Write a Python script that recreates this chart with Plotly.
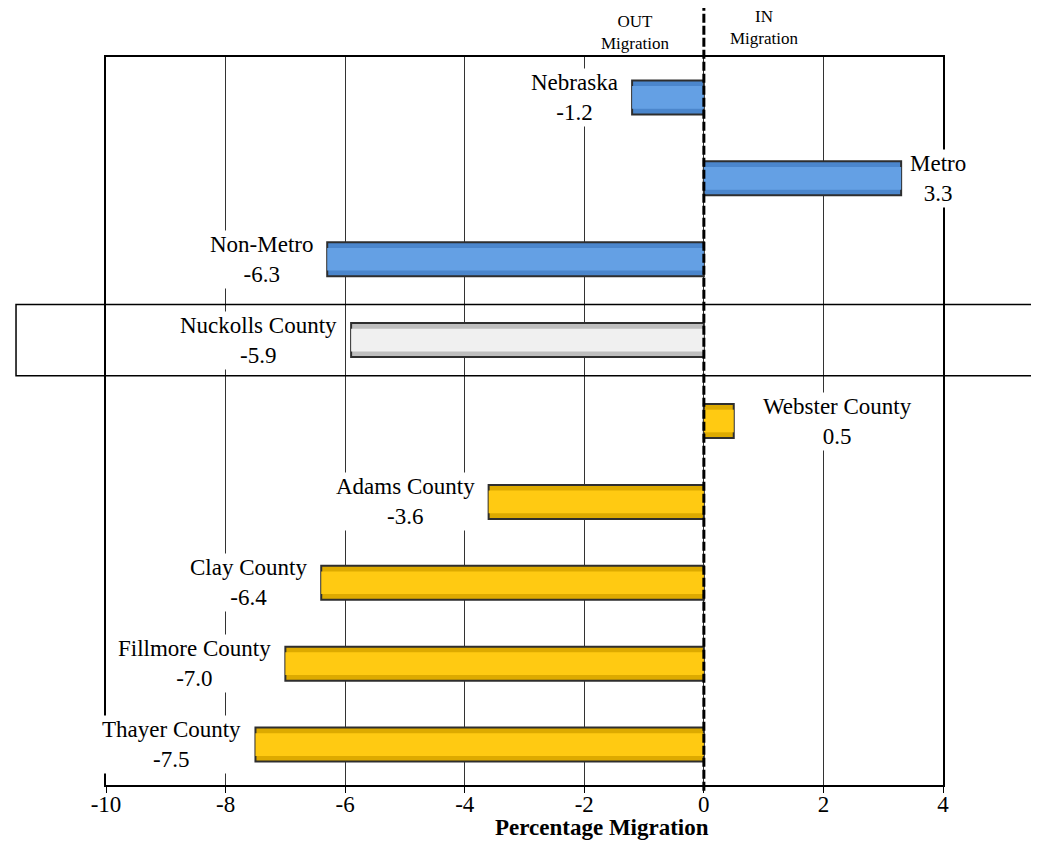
import plotly.graph_objects as go

# ---- data ----
categories = ["Nebraska", "Metro", "Non-Metro", "Nuckolls County", "Webster County",
              "Adams County", "Clay County", "Fillmore County", "Thayer County"]
values = [-1.2, 3.3, -6.3, -5.9, 0.5, -3.6, -6.4, -7.0, -7.5]
groups = ["state", "state", "state", "focus", "county", "county", "county", "county", "county"]
x_ticks = [-10, -8, -6, -4, -2, 0, 2, 4]
x_title = "Percentage Migration"

# ---- styles ----
FONT = "Liberation Serif, Times New Roman, serif"
edge_col = {"state": "#4B86CC", "focus": "#BEBEBE", "county": "#DDAA00"}
face_col = {"state": "#64A0E4", "focus": "#F0F0F0", "county": "#FFCA12"}
label_xshift_extra = {"Webster County": 20}

fig = go.Figure()
fig.add_trace(go.Bar(
    y=categories, x=values, orientation="h", width=0.42,
    marker=dict(color=[edge_col[g] for g in groups],
                line=dict(color="#2E2E2E", width=2)),
    hoverinfo="skip", showlegend=False,
))
fig.add_trace(go.Bar(
    y=categories, x=values, orientation="h", width=0.28,
    marker=dict(color=[face_col[g] for g in groups], line=dict(width=0)),
    hoverinfo="skip", showlegend=False,
))

annotations = []
for c, v in zip(categories, values):
    neg = v < 0
    shift = -12 if neg else 7 + label_xshift_extra.get(c, 0)
    annotations.append(dict(
        x=v, y=c, xref="x", yref="y",
        text=f"{c}<br>{v:.1f}", showarrow=False,
        xanchor="right" if neg else "left", yanchor="middle",
        xshift=shift, align="center", bgcolor="white", borderpad=1,
        font=dict(family=FONT, size=23, color="black"),
    ))

annotations.append(dict(x=-1.15, y=1.033, xref="x", yref="paper", text="OUT<br>Migration",
                        showarrow=False, xanchor="center", yanchor="middle", align="center",
                        font=dict(family=FONT, size=17, color="black")))
annotations.append(dict(x=1.0, y=1.04, xref="x", yref="paper", text="IN<br>Migration",
                        showarrow=False, xanchor="center", yanchor="middle", align="center",
                        font=dict(family=FONT, size=17, color="black")))
annotations.append(dict(x=-1.7, y=-0.058, xref="x", yref="paper", text=f"<b>{x_title}</b>",
                        showarrow=False, xanchor="center", yanchor="middle",
                        font=dict(family=FONT, size=23, color="black")))

focus_idx = groups.index("focus")
shapes = [
    dict(type="rect", xref="paper", yref="y", x0=-0.1075, x1=1.2,
         y0=focus_idx - 0.44, y1=focus_idx + 0.44,
         line=dict(color="black", width=1.5), fillcolor="rgba(0,0,0,0)", layer="above"),
    dict(type="line", xref="x", yref="paper", x0=0, x1=0, y0=-0.008, y1=1.07,
         line=dict(color="black", width=3, dash="9px,3px"), layer="above"),
]

fig.update_layout(
    width=1039, height=843,
    margin=dict(l=98, r=104, t=49, b=66),
    paper_bgcolor="white", plot_bgcolor="white",
    barmode="overlay",
    font=dict(family=FONT, color="black"),
    annotations=annotations, shapes=shapes,
    xaxis=dict(range=[-10, 4], tickvals=x_ticks, ticktext=[str(t) for t in x_ticks],
               showgrid=True, gridcolor="#333333", gridwidth=1, zeroline=False,
               showline=True, linecolor="black", linewidth=2, mirror=True,
               ticks="outside", ticklen=6, tickcolor="black", ticklabelstandoff=-9,
               automargin=False,
               tickfont=dict(family=FONT, size=23, color="black")),
    yaxis=dict(categoryorder="array", categoryarray=categories, autorange="reversed",
               showticklabels=False, ticks="", showgrid=False, zeroline=False,
               showline=True, linecolor="black", linewidth=2, mirror=True),
)

fig.write_html("out.html")
